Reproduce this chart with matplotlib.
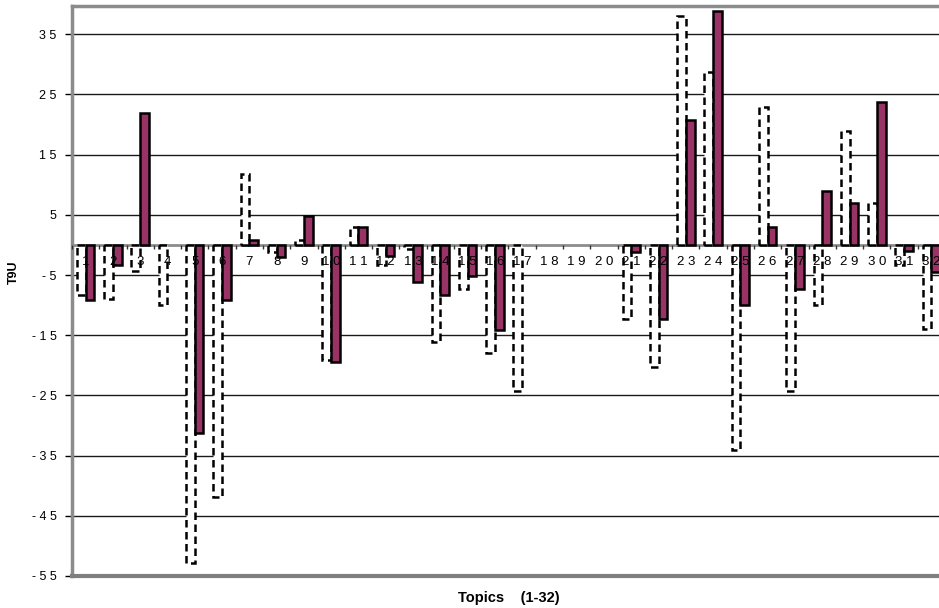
import matplotlib
matplotlib.use("Agg")
import matplotlib.pyplot as plt
import numpy as np

plt.rcParams["font.family"] = ["Liberation Sans", "DejaVu Sans"]

# Topic numbers and the two series of changes per topic
topics = list(range(1, 33))
series_a = [-8.3, -9.0, -4.3, -10.0, -52.9, -41.9, 11.8, -1.1, 0.8, -19.1,
            3.0, -3.4, -0.7, -16.2, -7.4, -18.0, -24.2, 0, 0, 0,
            -12.3, -20.2, 38.1, 28.8, -34.1, 23.0, -24.2, -10.0, 19.0, 7.0,
            -3.3, -14.0]
series_b = [-9.1, -3.4, 22.0, 0, -31.3, -9.1, 0.9, -2.0, 4.8, -19.4,
            3.0, -1.9, -6.1, -8.3, -5.1, -14.1, 0, 0, 0, 0,
            -1.1, -12.3, 20.8, 38.9, -10.0, 3.0, -7.4, 8.9, 7.0, 23.8,
            -1.0, -4.5]
y_ticks = [-55, -45, -35, -25, -15, -5, 5, 15, 25, 35]


def spaced(v):
    return " ".join(str(v))


fig = plt.figure(figsize=(9.39, 6.08), dpi=100)
ax = fig.add_axes([72 / 939, 32 / 608, 873 / 939, 570 / 608])

x = np.array(topics, dtype=float)
a = np.array(series_a, dtype=float)
b = np.array(series_b, dtype=float)
w = 0.32
ma = a != 0
mb = b != 0

ax.bar(x[ma] - w / 2, a[ma], w, facecolor="white", edgecolor="black",
       linestyle=(0, (3, 1.8)), linewidth=1.8, zorder=2)
ax.bar(x[mb] + w / 2, b[mb], w, facecolor="#993366", edgecolor="black",
       linewidth=1.8, zorder=2)

ax.set_xlim(0.5, 32.5)
ax.set_ylim(-55, 39.7)

# Value axis
ax.set_yticks(y_ticks)
ax.set_yticklabels([spaced(v) for v in y_ticks])
ax.tick_params(axis="y", direction="out", length=5, width=1, color="black",
               pad=6, labelsize=9)
ax.set_axisbelow(True)
ax.yaxis.grid(True, color="#1a1a1a", linewidth=1)

# Category axis crossing at zero
ax.spines["bottom"].set_position(("data", 0))
ax.spines["bottom"].set_color("#8c8c8c")
ax.spines["bottom"].set_linewidth(2)
ax.spines["bottom"].set_zorder(1.5)
ax.set_xticks(x)
ax.set_xticklabels([spaced(t) for t in topics])
ax.set_xticks(np.arange(0.5, 33, 1), minor=True)
ax.tick_params(axis="x", which="major", length=0, pad=8, labelsize=9.5)
ax.tick_params(axis="x", which="minor", length=3, width=1, direction="out",
               color="#333333")
ax.xaxis.set_zorder(5)

# Plot-area frame
for side in ("top", "left"):
    ax.spines[side].set_color("#8c8c8c")
    ax.spines[side].set_linewidth(2.5)
ax.spines["right"].set_visible(False)
ax.axhline(-55, color="#7f7f7f", linewidth=3, clip_on=False, zorder=4)

ax.text(0.5, -(598 - 576) / 570, "Topics    (1-32)", transform=ax.transAxes,
        ha="center", va="center", fontweight="bold", fontsize=10.5)
fig.text(14 / 939, 1 - 272 / 608, "T9U", rotation=90, ha="center",
         va="center", fontweight="bold", fontsize=9)

fig.savefig("out.png", dpi=100)
